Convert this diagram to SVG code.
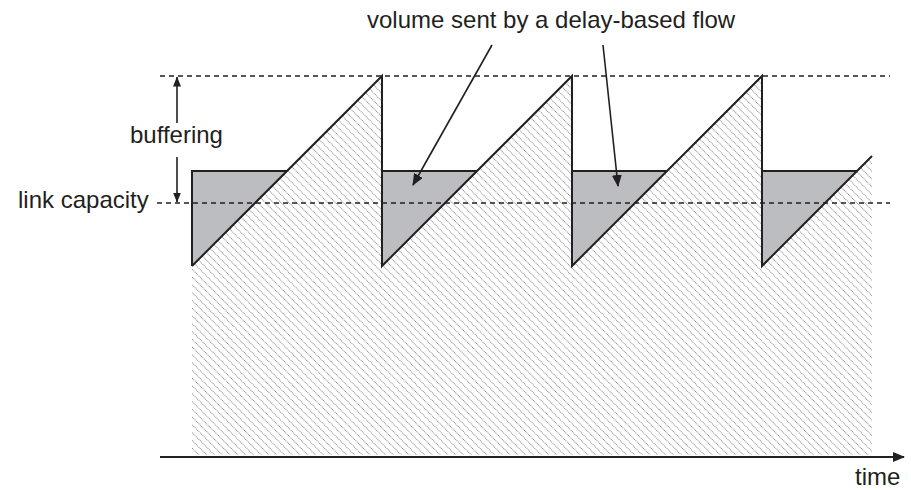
<svg xmlns="http://www.w3.org/2000/svg" width="911" height="490" viewBox="0 0 911 490">
<style>
.lbl{font-family:"Liberation Sans",Arial,Helvetica,sans-serif;font-size:24px;fill:#231f20}
.dash{stroke:#231f20;stroke-width:1.4;stroke-dasharray:5 4;fill:none}
.saw{stroke:#231f20;stroke-width:2;fill:none;stroke-linejoin:miter}
.gray{fill:#bcbdc0;stroke:none}
.conn{stroke:#231f20;stroke-width:1.6;fill:none}
</style>
<defs>
<pattern id="hatch" patternUnits="userSpaceOnUse" width="5.5" height="5.5" patternTransform="rotate(-45)">
<line x1="0" y1="0" x2="0" y2="5.5" stroke="#1e1e1e" stroke-width="0.9" stroke-dasharray="1.1 0.7"/>
</pattern>
<marker id="ah" viewBox="0 0 12 10" refX="11" refY="5" markerWidth="12" markerHeight="10" markerUnits="userSpaceOnUse" orient="auto">
<path d="M0,0 L12,5 L0,10 Z" fill="#231f20"/>
</marker>
<marker id="ahs" viewBox="0 0 10 8" refX="9.5" refY="4" markerWidth="10" markerHeight="8" markerUnits="userSpaceOnUse" orient="auto-start-reverse">
<path d="M0,0 L10,4 L0,8 Z" fill="#231f20"/>
</marker>
</defs>
<rect width="911" height="490" fill="#ffffff"/>
<g id="hatched-volume">
<polygon points="192,266 382,76 382,266 572,76 572,266 762,76 762,266 872,156 872,455 192,455" fill="url(#hatch)"/>
</g>
<g id="delay-flow-volume">
<polygon class="gray" points="192,171 287,171 192,266"/>
<polygon class="gray" points="382,171 477,171 382,266"/>
<polygon class="gray" points="572,171 667,171 572,266"/>
<polygon class="gray" points="762,171 857,171 762,266"/>
<path class="saw" d="M192,266 L192,171 L287,171 M382,266 L382,171 L477,171 M572,266 L572,171 L667,171 M762,266 L762,171 L857,171"/>
</g>
<g id="sawtooth">
<polyline class="saw" points="192,266 382,76 382,266 572,76 572,266 762,76 762,266 872,156"/>
</g>
<g id="reference-lines">
<line class="dash" x1="160" y1="76" x2="890" y2="76"/>
<line class="dash" x1="157" y1="203" x2="890" y2="203"/>
</g>
<g id="axis">
<line x1="160" y1="457" x2="904" y2="457" stroke="#231f20" stroke-width="2" marker-end="url(#ah)"/>
<text class="lbl" x="855" y="485">time</text>
</g>
<g id="label-buffering"><text class="lbl" x="130" y="143">buffering</text></g>
<g id="label-link-capacity"><text class="lbl" x="18" y="208">link capacity</text></g>
<g id="label-volume"><text class="lbl" x="367" y="28">volume sent by a delay-based flow</text></g>
<g id="connectors">
<line class="conn" x1="177" y1="123" x2="177" y2="77" marker-end="url(#ahs)"/>
<line class="conn" x1="177" y1="157" x2="177" y2="202" marker-end="url(#ahs)"/>
<line class="conn" x1="492" y1="45" x2="413" y2="185" marker-end="url(#ah)"/>
<line class="conn" x1="603" y1="45" x2="618" y2="186" marker-end="url(#ah)"/>
</g>
</svg>
